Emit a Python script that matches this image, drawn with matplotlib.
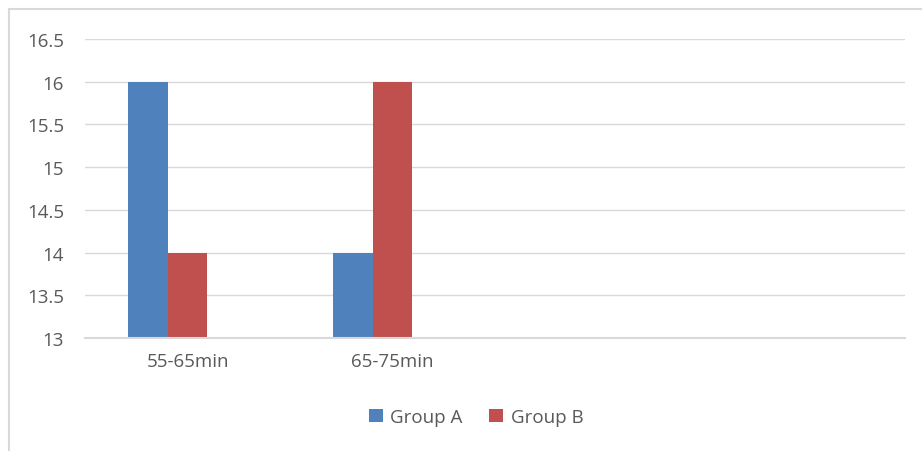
import numpy as np
import matplotlib
matplotlib.use("Agg")
import matplotlib.pyplot as plt
from matplotlib.patches import Rectangle

categories = ["55-65min", "65-75min", "", ""]
group_a = [16, 14, np.nan, np.nan]
group_b = [14, 16, np.nan, np.nan]
y_ticks = [13, 13.5, 14, 14.5, 15, 15.5, 16, 16.5]

plt.rcParams['font.family'] = ['Open Sans', 'DejaVu Sans']

fig = plt.figure(figsize=(9.22, 4.52), dpi=100)
ax = fig.add_axes([85 / 922, 1 - 339 / 452, 820 / 922, 299 / 452])

# outer chart border
fig.patches.append(Rectangle((9 / 922, -0.1), 1.2, 1 - 10 / 452 + 0.1,
                             transform=fig.transFigure, fill=False,
                             edgecolor='#d9d9d9', linewidth=1.5))

x = np.arange(len(categories))
w = 0.193

ax.bar(x - w, group_a, width=w, color='#4F81BD', label='Group A')
ax.bar(x, group_b, width=w, color='#C0504D', label='Group B')

ax.set_ylim(13, 16.5)
ax.set_xlim(-0.5, len(categories) - 0.5)
ax.set_yticks(y_ticks)
ax.set_yticklabels([f"{v:g}" for v in y_ticks])
ax.set_xticks(x)
ax.set_xticklabels(categories)

ax.grid(axis='y', color='#d9d9d9', linewidth=1)
ax.set_axisbelow(True)
for s in ['top', 'right', 'left']:
    ax.spines[s].set_visible(False)
ax.spines['bottom'].set_color('#d9d9d9')
ax.spines['bottom'].set_linewidth(1.5)
ax.spines['bottom'].set_zorder(3)

fs = 13.5
ax.tick_params(axis='both', length=0, labelsize=fs, labelcolor='#595959')
ax.tick_params(axis='y', pad=15)
ax.tick_params(axis='x', pad=10)

ax.legend(loc='center', bbox_to_anchor=(476 / 922, 1 - 418 / 452),
          bbox_transform=fig.transFigure, ncol=2, frameon=False,
          fontsize=fs, labelcolor='#595959', handlelength=0.75,
          handleheight=0.75, handletextpad=0.4, columnspacing=1.4)

fig.savefig("out.png", dpi=100)
